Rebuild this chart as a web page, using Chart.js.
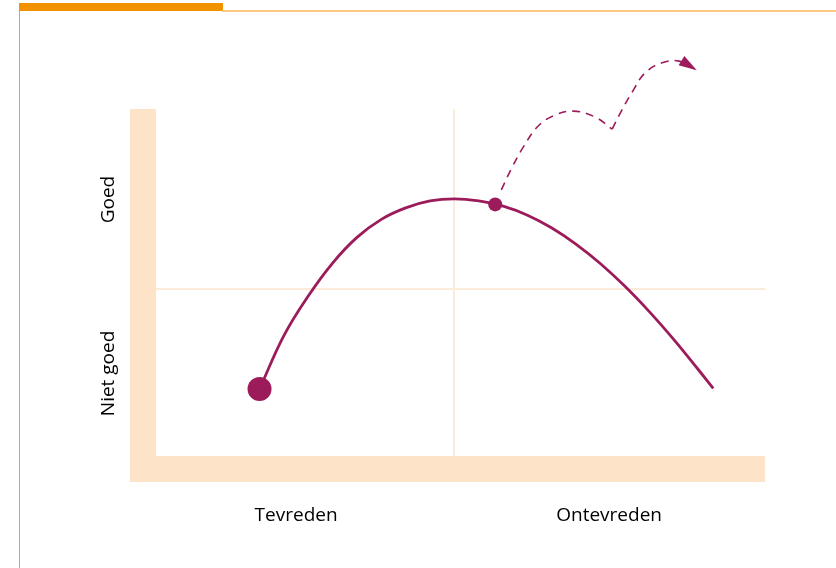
<!DOCTYPE html>
<html>
<head>
<meta charset="utf-8">
<script src="https://cdn.jsdelivr.net/npm/chart.js@4.4.1/dist/chart.umd.min.js"></script>
<style>
  html, body { margin: 0; padding: 0; background: #fff; }
  #wrap { position: relative; width: 836px; height: 568px; overflow: hidden; }
  #frameTop { position: absolute; left: 19px; top: 3px; width: 204px; height: 8px; background: #f39200; }
  #frameLine { position: absolute; left: 222px; top: 10px; width: 614px; height: 2px; background: #fcc97f; }
  #frameLeft { position: absolute; left: 19px; top: 11px; width: 1px; height: 557px; background: #f1a033; }
</style>
</head>
<body>
<div id="wrap">
  <canvas id="grafico" width="836" height="568"></canvas>
  <div id="frameTop"></div>
  <div id="frameLine"></div>
  <div id="frameLeft"></div>
</div>
<script>
// as-labels (waarden 0..100)
const xTickWaarden = [23.0, 48.9, 74.4];
const xTickLabels = ["Tevreden", "", "Ontevreden"];
const yTickWaarden = [23.8, 48.1, 73.9];
const yTickLabels = ["Niet goed", "", "Goed"];
const xMidden = 48.9;
const yMidden = 48.1;

// hoofdcurve
const curveX = [17, 21, 25, 29, 33, 37, 41, 45, 49, 53, 57, 61, 65, 69, 73, 77, 81, 85, 89, 91.5];
const curveY = [19.3, 34.7, 46.1, 55.6, 63.0, 68.2, 71.5, 73.5, 74.1, 73.5, 72.0, 69.4, 65.7,
                61.0, 55.4, 48.9, 41.6, 33.6, 25.0, 19.5];

// punten op de curve
const puntX = [17, 55.7];
const puntY = [19.3, 72.5];
const puntR = [12, 7];

// gestippelde pijl (twee stukken, met knik)
const pijl1X = [56.7, 58.5, 60.3, 62.6, 65.2, 68.5, 72.1, 74.9];
const pijl1Y = [76.7, 83.3, 89.0, 94.8, 98.0, 99.4, 97.7, 94.2];
const pijl2X = [74.9, 76.5, 78.2, 80.3, 83.1, 85.9, 88.8];
const pijl2Y = [94.2, 99.7, 104.9, 110.4, 113.3, 113.8, 111.2];

const paars = "#9c1c5b";
const perzik = "#fde4c8";
const rasterKleur = "#fdebd9";

const maakPunten = (xs, ys) => xs.map((x, i) => ({ x: x, y: ys[i] }));

// dikke perzik-assen links en onder
const assenPlugin = {
  id: "assen",
  beforeDatasetsDraw(chart) {
    const { ctx, chartArea } = chart;
    const dik = 26;
    ctx.save();
    ctx.fillStyle = perzik;
    ctx.fillRect(chartArea.left - dik, chartArea.top, dik, chartArea.bottom - chartArea.top + dik);
    ctx.fillRect(chartArea.left - dik, chartArea.bottom, chartArea.right - chartArea.left + dik, dik);
    ctx.restore();
  }
};

// pijlpunt aan het eind van de gestippelde lijn
const pijlPlugin = {
  id: "pijlpunt",
  afterDatasetsDraw(chart) {
    const meta = chart.getDatasetMeta(3);
    const pts = meta.data;
    const a = pts[pts.length - 2];
    const b = pts[pts.length - 1];
    const hoek = Math.atan2(b.y - a.y, b.x - a.x) + 0.08;
    const lengte = 18, breed = 5.5;
    const ctx = chart.ctx;
    ctx.save();
    ctx.translate(b.x, b.y);
    ctx.rotate(hoek);
    ctx.fillStyle = paars;
    ctx.beginPath();
    ctx.moveTo(0, 0);
    ctx.lineTo(-lengte, -breed);
    ctx.lineTo(-lengte, breed);
    ctx.closePath();
    ctx.fill();
    ctx.restore();
  }
};

const ctx = document.getElementById("grafico");

new Chart(ctx, {
  type: "line",
  data: {
    datasets: [
      {
        data: maakPunten(curveX, curveY),
        borderColor: paars,
        borderWidth: 2.8,
        pointRadius: 0,
        tension: 0.4,
        fill: false
      },
      {
        type: "scatter",
        data: maakPunten(puntX, puntY),
        backgroundColor: paars,
        borderWidth: 0,
        pointRadius: puntR,
        pointHoverRadius: puntR
      },
      {
        data: maakPunten(pijl1X, pijl1Y),
        borderColor: paars,
        borderWidth: 1.6,
        borderDash: [8, 6],
        pointRadius: 0,
        tension: 0.4,
        clip: false
      },
      {
        data: maakPunten(pijl2X, pijl2Y),
        borderColor: paars,
        borderWidth: 1.6,
        borderDash: [8, 6],
        pointRadius: 0,
        tension: 0.4,
        clip: false
      }
    ]
  },
  options: {
    responsive: false,
    animation: false,
    devicePixelRatio: 1,
    layout: { padding: { top: 109, right: 71, left: 0, bottom: 0 } },
    plugins: { legend: { display: false }, tooltip: { enabled: false } },
    scales: {
      x: {
        type: "linear",
        min: 0,
        max: 100,
        afterFit: (s) => { s.height = 112; },
        afterBuildTicks: (s) => { s.ticks = xTickWaarden.map((v) => ({ value: v })); },
        border: { display: false },
        grid: {
          drawTicks: false,
          lineWidth: 2,
          color: (c) => (c.tick && c.tick.value === xMidden ? rasterKleur : "rgba(0,0,0,0)")
        },
        ticks: {
          padding: 48,
          color: "#000",
          font: { family: "Open Sans", size: 19 },
          maxRotation: 0,
          autoSkip: false,
          callback: (v, i) => xTickLabels[i]
        }
      },
      y: {
        type: "linear",
        min: 0,
        max: 100,
        afterFit: (s) => { s.width = 156; },
        afterBuildTicks: (s) => { s.ticks = yTickWaarden.map((v) => ({ value: v })); },
        border: { display: false },
        grid: {
          drawTicks: false,
          lineWidth: 2,
          color: (c) => (c.tick && c.tick.value === yMidden ? rasterKleur : "rgba(0,0,0,0)")
        },
        ticks: {
          padding: 5,
          crossAlign: "center",
          minRotation: 90,
          maxRotation: 90,
          color: "#000",
          font: { family: "Open Sans", size: 19 },
          autoSkip: false,
          callback: (v, i) => yTickLabels[i]
        }
      }
    }
  },
  plugins: [assenPlugin, pijlPlugin]
});
</script>
</body>
</html>
